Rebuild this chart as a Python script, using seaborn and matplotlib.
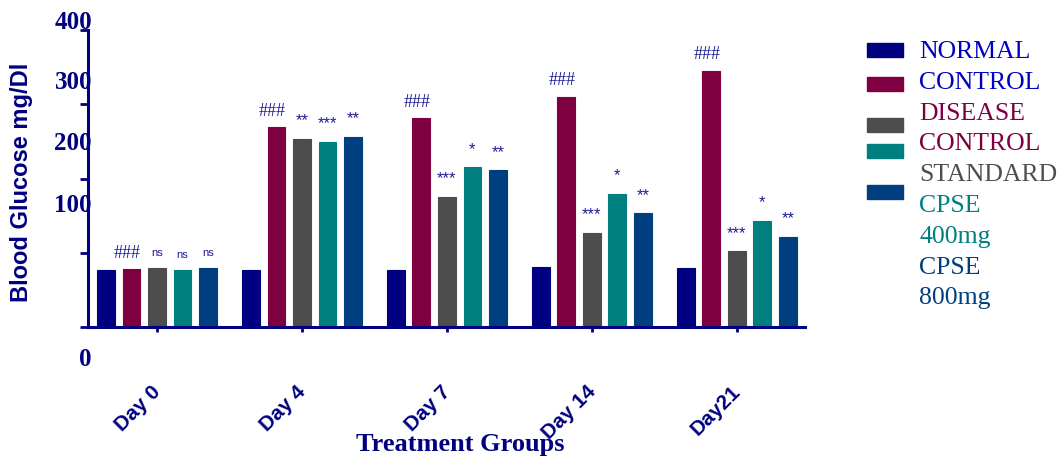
import matplotlib
matplotlib.use("Agg")
import matplotlib.pyplot as plt
import matplotlib.transforms as mtransforms
from matplotlib.patches import Rectangle
import pandas as pd
import seaborn as sns

days = ["Day 0", "Day 4", "Day 7", "Day 14", "Day21"]
groups = ["NORMAL CONTROL", "DISEASE CONTROL", "STANDARD", "CPSE 400mg", "CPSE 800mg"]

normal = [77, 77, 77, 81, 79]
disease = [78, 269, 281, 310, 345]
standard = [79, 253, 175, 127, 102]
cpse400 = [77, 249, 215, 179, 143]
cpse800 = [79, 256, 211, 153, 121]

sig_normal = ["", "", "", "", ""]
sig_disease = ["###", "###", "###", "###", "###"]
sig_standard = ["ns", "**", "***", "***", "***"]
sig_cpse400 = ["ns", "***", "*", "*", "*"]
sig_cpse800 = ["ns", "**", "**", "**", "**"]

legend_lines = [["NORMAL", "CONTROL"], ["DISEASE", "CONTROL"], ["STANDARD"],
                ["CPSE", "400mg"], ["CPSE", "800mg"]]

yticks = [0, 100, 200, 300, 400]

bar_colors = ["#000080", "#7f0040", "#4d4d4d", "#007f7f", "#003f7f"]
text_colors = ["#0000c0", "#7f0040", "#4d4d4d", "#007f7f", "#003f7f"]
NAVY = "#000080"
SIG = "#1c1c96"

W, H = 1063, 462


def main():
    sns.set_style("white")
    plt.rcParams["font.family"] = ["Liberation Sans", "DejaVu Sans"]

    rows = []
    for g, vals in zip(groups, [normal, disease, standard, cpse400, cpse800]):
        for d, v in zip(days, vals):
            rows.append({"day": d, "group": g, "glucose": v})
    df = pd.DataFrame(rows)

    fig = plt.figure(figsize=(W / 100, H / 100), dpi=100)
    ax = fig.add_axes([88 / W, 1 - 327 / H, (805 - 88) / W, (327 - 30) / H])

    sns.barplot(data=df, x="day", y="glucose", hue="group", order=days,
                hue_order=groups, palette=bar_colors, saturation=1,
                width=0.88, gap=0.3, errorbar=None, legend=False, ax=ax)
    for p in ax.patches:
        p.set_edgecolor(p.get_facecolor())
        p.set_linewidth(0.8)
    ax.set_ylim(0, 400)
    ax.set_xlim(-0.476, 4.47)

    # significance marks
    sigs = [sig_normal, sig_disease, sig_standard, sig_cpse400, sig_cpse800]
    for cont, marks in zip(ax.containers, sigs):
        for bar, s in zip(cont, marks):
            if not s:
                continue
            x = bar.get_x() + bar.get_width() / 2
            y = bar.get_height()
            if s == "###":
                ax.annotate(s, (x, y), xytext=(-3, 11.5), textcoords="offset points",
                            ha="center", va="center", fontsize=13,
                            family="Liberation Serif", color=SIG)
            elif s == "ns":
                ax.annotate(s, (x, y), xytext=(0, 11), textcoords="offset points",
                            ha="center", va="center", fontsize=8, color=SIG)
            else:
                ax.annotate(s, (x, y), xytext=(0, 13), textcoords="offset points",
                            ha="center", va="center", fontsize=12, color=SIG)

    for s in ["top", "right"]:
        ax.spines[s].set_visible(False)
    for s in ["left", "bottom"]:
        ax.spines[s].set_color(NAVY)
        ax.spines[s].set_linewidth(2.2)

    # y ticks: labels sit off their tick marks as in the original
    ax.set_yticks(yticks)
    ax.set_yticklabels([str(v) for v in yticks], fontsize=18, fontweight="bold",
                       family="Liberation Serif", color=NAVY)
    ax.tick_params(axis="y", left=True, length=5.8, width=2, color=NAVY, pad=0)
    shifts = [-30, 50, 37, 24, 10]
    for lab, dy in zip(ax.get_yticklabels(), shifts):
        lab.set_transform(lab.get_transform() + mtransforms.ScaledTranslation(
            0.12, dy / 100, fig.dpi_scale_trans))

    ax.set_xticks(range(len(days)))
    ax.set_xticklabels(days, rotation=45, ha="right", va="center",
                       rotation_mode="anchor", fontsize=15, fontweight="bold",
                       color=NAVY)
    ax.tick_params(axis="x", bottom=True, length=3.6, width=2, color=NAVY, pad=0)
    for lab in ax.get_xticklabels():
        lab.set_transform(lab.get_transform() + mtransforms.ScaledTranslation(
            0.01, -0.57, fig.dpi_scale_trans))

    ax.set_xlabel("Treatment Groups", fontsize=19, fontweight="bold",
                  family="Liberation Serif", color=NAVY)
    ax.xaxis.set_label_coords(0.519, -0.357)
    ax.set_ylabel("Blood Glucose mg/Dl", fontsize=17, fontweight="bold", color=NAVY)
    ax.yaxis.set_label_coords(-0.077, 0.488)

    # legend drawn by hand: swatches and wrapped labels do not line up
    patch_y = [50, 84, 125, 151, 192]
    for col, py in zip(bar_colors, patch_y):
        fig.add_artist(Rectangle((867 / W, 1 - (py + 7) / H), 36 / W, 14 / H,
                                 transform=fig.transFigure, color=col))
    ty = 52
    for lines, col in zip(legend_lines, text_colors):
        for line in lines:
            fig.text(919 / W, 1 - ty / H, line, ha="left", va="center",
                     fontsize=18.5, family="Liberation Serif", color=col)
            ty += 30.8

    fig.savefig("out.png", dpi=100)


if __name__ == "__main__":
    main()
